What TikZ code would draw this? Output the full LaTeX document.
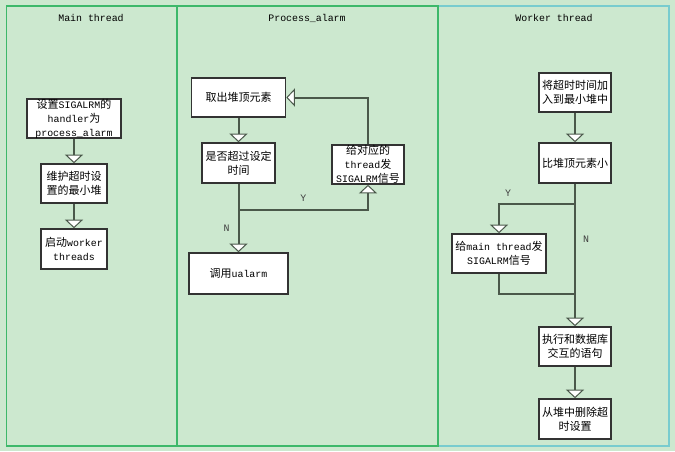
\documentclass[tikz,border=0pt]{standalone}
\usepackage{fontspec}
\setmainfont{Liberation Mono}[Scale=0.9]
\newfontfamily\cjk{Noto Sans CJK SC}
\usepackage{xcolor}
\usepackage{tikz}
\usetikzlibrary{arrows.meta}
\definecolor{bgGreen}{HTML}{CCE8CF}
\definecolor{laneGreen}{HTML}{3DB86A}
\definecolor{laneCyan}{HTML}{78CCCF}
\definecolor{boxGray}{HTML}{333333}
\definecolor{flowGray}{HTML}{4A584A}
\newcommand{\zh}[1]{{\cjk #1}}
\tikzstyle{tsText} = [ 
    text=black, 
    font=\fontsize{11}{14}\selectfont
]
\tikzstyle{tsBox} = [ 
    rectangle,
    tsText,
    align=center,
    draw=boxGray,
    fill=white,
    inner xsep=2pt,
    inner ysep=0pt,
    line width=1.6pt]
\tikzstyle{tsFlow} = [
    draw=flowGray,
    line width=2pt,
    -{Triangle[open, fill=white, width=18pt, length=8.5pt, line width=1pt]}]
\tikzstyle{tsLine} = [
    draw=flowGray,
    line width=2pt]
\tikzstyle{tsLabel} = [
    tsText,
    text=black!75]

\begin{document}
\begin{tikzpicture}[x=1pt, y=-1pt]

        \fill[bgGreen] (0,0) rectangle (675,451);

        % lanes
        \draw[laneCyan, line width=1.5pt] (438,6) rectangle (669,446);
        \draw[laneGreen, line width=1.5pt] (6.5,6) rectangle (438,446);
        \draw[laneGreen, line width=1.5pt] (177,6) -- (177,446);

        \node[tsText] (tMain) at (91,18) {Main thread};
        \node[tsText] (tAlarm) at (307,18) {Process\_alarm};
        \node[tsText] (tWorker) at (554,18) {Worker thread};

        % Main thread
        \node[tsBox, minimum width=94pt, minimum height=39pt] (m1) at (74,118.5)
            {\zh{设置}SIGALRM\zh{的}\\handler\zh{为}\\process\_alarm};
        \node[tsBox, minimum width=66pt, minimum height=39pt] (m2) at (74,183.5)
            {\zh{维护超时设}\\\zh{置的最小堆}};
        \node[tsBox, minimum width=66pt, minimum height=40pt] (m3) at (74,249)
            {\zh{启动}worker\\threads};

        \draw[tsFlow] (m1) -- (m2);
        \draw[tsFlow] (m2) -- (m3);

        % Process_alarm
        \node[tsBox, minimum width=94pt, minimum height=39pt] (p1) at (238.5,97.5)
            {\zh{取出堆顶元素}};
        \node[tsBox, minimum width=73pt, minimum height=40pt] (p2) at (238.5,163)
            {\zh{是否超过设定}\\\zh{时间}};
        \node[tsBox, minimum width=72pt, minimum height=39pt] (p3) at (368,164.5)
            {\zh{给对应的}\\thread\zh{发}\\SIGALRM\zh{信号}};
        \node[tsBox, minimum width=99pt, minimum height=41pt] (p4) at (238.5,273.5)
            {\zh{调用}ualarm};
        \coordinate (pY) at (238.5,210);

        \draw[tsFlow] (p1) -- (p2);
        \draw[tsFlow] (p2) -- node[tsLabel, left=5pt, pos=0.65] {N} (p4);
        \draw[tsFlow] (pY) -| node[tsLabel, above=5pt, pos=0.25] {Y} (p3);
        \draw[tsFlow] (p3.north) |- (p1.east);

        % Worker thread
        \node[tsBox, minimum width=72pt, minimum height=39pt] (w1) at (575,92.5)
            {\zh{将超时时间加}\\\zh{入到最小堆中}};
        \node[tsBox, minimum width=72pt, minimum height=40pt] (w2) at (575,163)
            {\zh{比堆顶元素小}};
        \node[tsBox, minimum width=94pt, minimum height=39pt] (w3) at (499,253.5)
            {\zh{给}main thread\zh{发}\\SIGALRM\zh{信号}};
        \node[tsBox, minimum width=72pt, minimum height=39pt] (w4) at (575,346.5)
            {\zh{执行和数据库}\\\zh{交互的语句}};
        \node[tsBox, minimum width=72pt, minimum height=40pt] (w5) at (575,419)
            {\zh{从堆中删除超}\\\zh{时设置}};
        \coordinate (wY) at (575,204);
        \coordinate (wJoin) at (575,294);

        \draw[tsFlow] (w1) -- (w2);
        \draw[tsFlow] (w2) -- node[tsLabel, right=4pt, pos=0.39] {N} (w4);
        \draw[tsFlow] (wY) -| node[tsLabel, above=4pt, pos=0.44] {Y} (w3);
        \draw[tsLine] (w3.south) |- (wJoin);
        \draw[tsFlow] (w4) -- (w5);

\end{tikzpicture}
\end{document}
